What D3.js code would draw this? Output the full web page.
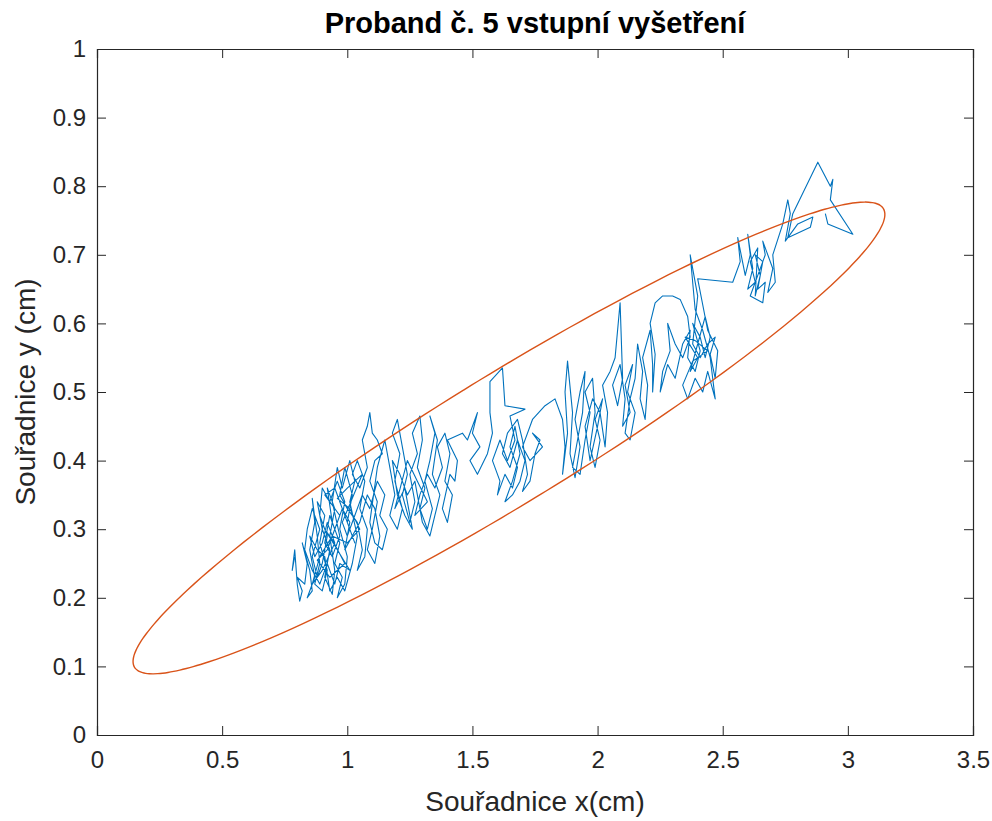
<!DOCTYPE html>
<html>
<head>
<meta charset="utf-8">
<title>Proband č. 5 vstupní vyšetření</title>
<script src="https://cdn.jsdelivr.net/npm/d3@7"></script>
<style>
  body { margin: 0; background: #fff; }
  svg { display: block; font-family: "Liberation Sans", Arial, Helvetica, sans-serif; }
</style>
</head>
<body>
<svg id="chart" width="992" height="821"></svg>
<script>
// axis ticks
const xTicks = [0, 0.5, 1, 1.5, 2, 2.5, 3, 3.5];
const yTicks = [0, 0.1, 0.2, 0.3, 0.4, 0.5, 0.6, 0.7, 0.8, 0.9, 1];

// center of pressure trace [x cm, y cm]
const swayPath = [
  [0.79,0.26],[0.78,0.24],[0.79,0.27],[0.80,0.22],[0.81,0.195],[0.82,0.21],[0.80,0.23],[0.83,0.22],[0.84,0.25],[0.82,0.28],
  [0.85,0.24],[0.86,0.21],[0.84,0.20],[0.87,0.23],[0.85,0.27],[0.87,0.31],[0.86,0.345],[0.88,0.29],[0.89,0.25],[0.87,0.22],
  [0.90,0.21],[0.92,0.24],[0.89,0.28],[0.91,0.32],[0.88,0.34],[0.90,0.30],[0.93,0.27],[0.91,0.23],[0.94,0.205],[0.95,0.24],
  [0.93,0.29],[0.95,0.33],[0.92,0.36],[0.94,0.31],[0.97,0.28],[0.95,0.25],[0.98,0.23],[0.96,0.20],[0.99,0.22],[1.00,0.26],
  [0.97,0.30],[0.99,0.34],[0.96,0.37],[0.93,0.34],[0.90,0.36],[0.89,0.32],[0.92,0.29],[0.90,0.25],[0.88,0.23],[0.86,0.26],
  [0.89,0.30],[0.86,0.33],[0.84,0.30],[0.83,0.27],[0.86,0.24],[0.89,0.22],[0.92,0.25],[0.95,0.22],[0.97,0.25],[1.01,0.24],
  [0.96,0.27],[0.91,0.30],[0.94,0.285],[0.99,0.25],[0.93,0.23],[0.88,0.255],[0.92,0.27],[0.97,0.32],[0.91,0.35],[0.95,0.36],
  [1.03,0.28],[1.00,0.31],[1.02,0.35],[0.99,0.39],[0.97,0.35],[1.00,0.33],[1.04,0.31],[1.06,0.27],[1.04,0.24],[1.07,0.26],
  [1.08,0.30],[1.05,0.33],[1.07,0.37],[1.04,0.40],[1.02,0.38],[1.05,0.36],[1.08,0.39],[1.06,0.43],[1.08,0.45],[1.09,0.47],
  [1.10,0.44],[1.12,0.43],[1.14,0.41],[1.11,0.40],[1.09,0.37],[1.12,0.34],[1.10,0.30],[1.08,0.27],[1.11,0.25],[1.13,0.29],
  [1.11,0.33],[1.08,0.35],[1.05,0.31],[1.02,0.29],[0.99,0.27],[1.01,0.31],[0.98,0.33],[0.95,0.30],[0.93,0.32],[0.91,0.28],
  [0.94,0.26],[0.97,0.29],[0.94,0.34],[0.96,0.39],[0.98,0.36],[1.01,0.40],[1.03,0.37],[1.01,0.34],[1.04,0.29],[1.02,0.25],
  [0.99,0.21],[0.96,0.23],[0.93,0.21],[0.91,0.26],[0.88,0.27],[0.85,0.29],[0.87,0.26],[0.90,0.28],[0.92,0.31],[0.95,0.28],
  [0.90,0.24],[0.86,0.22],[0.89,0.26],[0.94,0.29],[1.00,0.28],[1.05,0.30],[1.01,0.33],[0.96,0.345],[1.00,0.36],[1.06,0.38],
  [0.98,0.31],[1.00,0.29],[1.03,0.32],[1.06,0.35],[1.09,0.33],[1.12,0.37],[1.15,0.35],[1.13,0.32],[1.16,0.30],[1.14,0.27],
  [1.11,0.28],[1.09,0.31],[1.12,0.39],[1.15,0.43],[1.17,0.39],
  [1.19,0.35],[1.17,0.32],[1.20,0.30],[1.22,0.33],[1.19,0.37],[1.21,0.41],[1.18,0.44],[1.20,0.46],[1.22,0.42],[1.24,0.38],
  [1.22,0.35],[1.25,0.31],[1.27,0.34],[1.25,0.38],[1.28,0.41],[1.26,0.44],[1.29,0.465],[1.30,0.43],[1.28,0.39],[1.31,0.36],
  [1.29,0.33],[1.32,0.30],[1.34,0.33],[1.31,0.37],[1.33,0.40],[1.35,0.44],[1.33,0.465],[1.36,0.43],[1.34,0.38],[1.37,0.35],
  [1.35,0.32],[1.33,0.29],[1.30,0.31],[1.27,0.37],[1.24,0.35],[1.21,0.38],[1.18,0.40],[1.20,0.35],[1.23,0.32],[1.26,0.30],
  [1.23,0.36],[1.19,0.33],[1.24,0.40],[1.28,0.37],[1.32,0.34],[1.27,0.32],
  [1.29,0.35],[1.32,0.38],[1.35,0.36],[1.38,0.39],[1.36,0.42],[1.39,0.44],[1.41,0.41],[1.39,0.37],[1.42,0.35],[1.40,0.31],
  [1.38,0.33],[1.41,0.38],[1.43,0.37],[1.44,0.40],[1.40,0.43],
  [1.46,0.44],[1.48,0.43],[1.52,0.47],[1.50,0.44],[1.53,0.42],[1.49,0.40],[1.52,0.38],
  [1.56,0.41],[1.58,0.44],[1.57,0.47],[1.57,0.515],[1.62,0.535],[1.63,0.48],[1.71,0.475],[1.65,0.465],[1.67,0.43],[1.64,0.40],
  [1.61,0.43],[1.58,0.40],[1.61,0.37],[1.60,0.35],[1.63,0.38],[1.66,0.36],[1.68,0.39],[1.65,0.42],[1.67,0.45],[1.69,0.41],
  [1.66,0.37],[1.63,0.34],[1.66,0.35],[1.69,0.37],[1.71,0.40],[1.68,0.43],[1.65,0.39],[1.62,0.41],[1.64,0.44],[1.68,0.46],
  [1.70,0.43],[1.72,0.38],[1.70,0.355],[1.73,0.37],[1.75,0.41],[1.77,0.43],[1.74,0.44],[1.78,0.42],[1.73,0.40],[1.70,0.42],
  [1.74,0.46],[1.79,0.48],[1.83,0.49],
  [1.86,0.46],[1.87,0.42],[1.86,0.38],[1.88,0.44],[1.87,0.50],[1.88,0.545],[1.90,0.47],[1.89,0.41],[1.91,0.375],[1.93,0.42],
  [1.91,0.46],[1.93,0.50],[1.95,0.53],[1.94,0.47],[1.92,0.43],[1.90,0.39],[1.93,0.38],[1.95,0.43],[1.97,0.47],[1.95,0.50],
  [1.98,0.52],[1.99,0.47],[1.97,0.42],[1.99,0.39],[2.01,0.43],[1.99,0.46],[2.02,0.49],[2.00,0.45],[1.97,0.40],[1.95,0.45],
  [1.98,0.49],[2.01,0.47],[2.03,0.42],[2.04,0.47],[2.02,0.51],[2.05,0.53],
  [2.07,0.55],[2.09,0.63],[2.10,0.52],[2.08,0.48],[2.06,0.51],[2.09,0.54],[2.11,0.49],[2.10,0.45],[2.13,0.47],[2.11,0.51],
  [2.14,0.54],[2.12,0.50],[2.15,0.47],[2.13,0.43],[2.11,0.44],[2.13,0.49],[2.15,0.52],[2.16,0.57],[2.18,0.53],[2.17,0.49],
  [2.19,0.46],[2.20,0.51],[2.18,0.55],[2.21,0.59],[2.22,0.54],[2.22,0.50],[2.23,0.555],
  [2.21,0.60],[2.23,0.63],[2.26,0.64],[2.30,0.64],[2.33,0.635],[2.36,0.61],[2.37,0.58],
  [2.34,0.55],[2.31,0.57],[2.28,0.60],[2.29,0.56],[2.26,0.53],[2.25,0.50],[2.28,0.54],[2.31,0.52],[2.34,0.57],[2.37,0.59],
  [2.36,0.55],[2.39,0.53],[2.41,0.56],[2.38,0.60],[2.41,0.58],[2.43,0.55],[2.45,0.58],[2.43,0.61],[2.40,0.57],[2.37,0.53],
  [2.40,0.55],[2.35,0.58],[2.39,0.575],[2.44,0.56],[2.38,0.545],
  [2.34,0.51],[2.36,0.49],[2.39,0.52],[2.42,0.50],[2.44,0.53],[2.47,0.49],[2.45,0.55],[2.42,0.59],[2.39,0.62],[2.37,0.70],
  [2.40,0.64],[2.38,0.57],[2.41,0.55],[2.44,0.57],[2.47,0.58],[2.45,0.555],[2.47,0.52],[2.48,0.56],[2.44,0.59],[2.40,0.665],
  [2.54,0.66],
  [2.57,0.69],[2.56,0.725],[2.59,0.67],[2.61,0.70],[2.60,0.73],[2.62,0.68],[2.60,0.65],[2.63,0.66],[2.61,0.69],[2.64,0.71],
  [2.63,0.64],[2.65,0.67],[2.63,0.70],[2.66,0.69],[2.64,0.65],[2.67,0.66],[2.66,0.63],[2.61,0.64],[2.64,0.67],[2.67,0.70],
  [2.66,0.72],[2.70,0.68],[2.68,0.645],[2.71,0.66],[2.70,0.70],
  [2.74,0.745],[2.76,0.78],[2.77,0.76],[2.75,0.72],[2.80,0.745],[2.86,0.755],[2.85,0.74],[2.76,0.725],[2.78,0.76],[2.88,0.835],
  [2.93,0.80],[2.94,0.81],[2.93,0.78],[3.02,0.73],[2.92,0.745],[2.91,0.76]
];

// confidence ellipse: center, semi-axes and tilt (degrees), in data units
const ellipseCenter = [1.646, 0.433];
const ellipseAxes = [1.537, 0.1075];
const ellipseTilt = 12.3;

const svg = d3.select('#chart');
const margin = { top: 49, right: 19, bottom: 86, left: 97 };
const width = 992 - margin.left - margin.right;
const height = 821 - margin.top - margin.bottom;

const x = d3.scaleLinear().domain([0, 3.5]).range([0, width]);
const y = d3.scaleLinear().domain([0, 1]).range([height, 0]);

const g = svg.append('g').attr('transform', `translate(${margin.left},${margin.top})`);

const axisColor = '#262626';
const tickLen = 9;

// clip so nothing spills out of the box
svg.append('defs').append('clipPath').attr('id', 'plot-clip')
  .append('rect').attr('width', width).attr('height', height);

const plot = g.append('g').attr('clip-path', 'url(#plot-clip)');

// trace
const line = d3.line().x(d => x(d[0])).y(d => y(d[1]));
plot.append('path')
  .datum(swayPath)
  .attr('d', line)
  .attr('fill', 'none')
  .attr('stroke', '#0072BD')
  .attr('stroke-width', 1.1)
  .attr('stroke-linejoin', 'round');

// ellipse outline
const phi = ellipseTilt * Math.PI / 180;
const ellipsePts = d3.range(0, 361, 2).map(deg => {
  const t = deg * Math.PI / 180;
  const u = ellipseAxes[0] * Math.cos(t), v = ellipseAxes[1] * Math.sin(t);
  return [ellipseCenter[0] + u * Math.cos(phi) - v * Math.sin(phi),
          ellipseCenter[1] + u * Math.sin(phi) + v * Math.cos(phi)];
});
plot.append('path')
  .datum(ellipsePts)
  .attr('d', line.curve(d3.curveCardinalClosed))
  .attr('fill', 'none')
  .attr('stroke', '#D95319')
  .attr('stroke-width', 1.4);

// axes, MATLAB style: ticks inside on all four sides
const bottomAxis = d3.axisBottom(x).tickValues(xTicks).tickSize(-tickLen).tickPadding(16)
  .tickFormat(d3.format('~g'));
const leftAxis = d3.axisLeft(y).tickValues(yTicks).tickSize(-tickLen).tickPadding(11)
  .tickFormat(d3.format('~g'));
const topAxis = d3.axisTop(x).tickValues(xTicks).tickSize(-tickLen).tickFormat('');
const rightAxis = d3.axisRight(y).tickValues(yTicks).tickSize(-tickLen).tickFormat('');

function styleAxis(sel) {
  sel.select('.domain').attr('stroke', axisColor).attr('stroke-width', 1.2);
  sel.selectAll('.tick line').attr('stroke', axisColor).attr('stroke-width', 1);
  sel.selectAll('.tick text').attr('fill', axisColor).style('font-size', '24px');
}

g.append('g').attr('transform', `translate(0,${height})`).call(bottomAxis).call(styleAxis);
g.append('g').call(leftAxis).call(styleAxis);
g.append('g').call(topAxis).call(styleAxis);
g.append('g').attr('transform', `translate(${width},0)`).call(rightAxis).call(styleAxis);

// labels and title
svg.append('text')
  .attr('x', margin.left + width / 2).attr('y', 811)
  .attr('text-anchor', 'middle')
  .attr('fill', axisColor)
  .style('font-size', '28px')
  .text('Souřadnice x(cm)');

svg.append('text')
  .attr('transform', `translate(35,${margin.top + height / 2}) rotate(-90)`)
  .attr('text-anchor', 'middle')
  .attr('fill', axisColor)
  .style('font-size', '28px')
  .text('Souřadnice y (cm)');

svg.append('text')
  .attr('x', margin.left + width / 2).attr('y', 33)
  .attr('text-anchor', 'middle')
  .attr('fill', '#000')
  .style('font-size', '29px')
  .style('font-weight', 'bold')
  .text('Proband č. 5 vstupní vyšetření');
</script>
</body>
</html>
